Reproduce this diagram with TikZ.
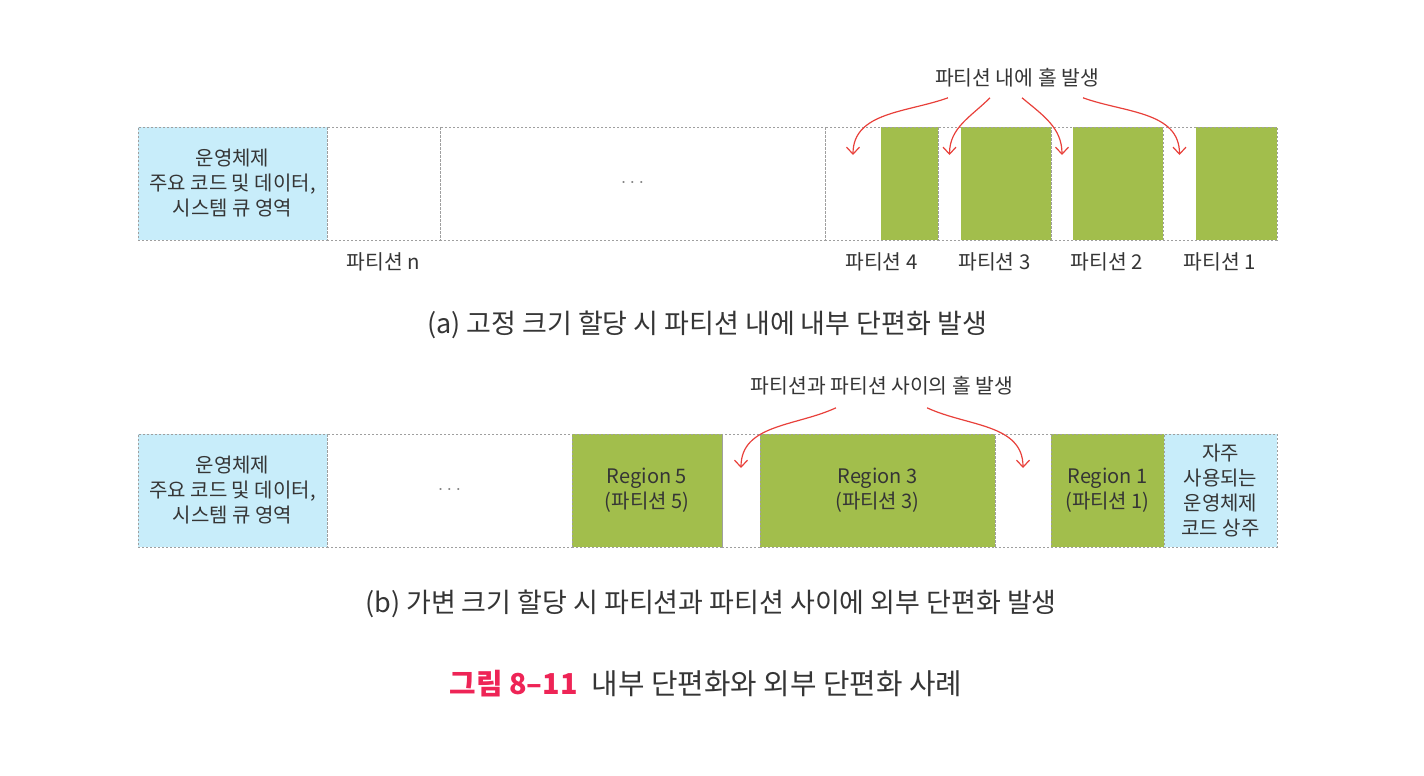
\documentclass[tikz,border=0pt]{standalone}
\usepackage{fontspec}
\setmainfont{Noto Sans CJK KR}
\usetikzlibrary{positioning, arrows.meta, backgrounds}
\definecolor{osblue}{HTML}{C8EDFA}
\definecolor{usedgreen}{HTML}{A2BE4C}
\definecolor{holered}{HTML}{E8403A}
\definecolor{figred}{HTML}{EE2456}
\definecolor{inkgray}{HTML}{353535}
\tikzstyle{memcell} = [rectangle, draw=gray!75, dash pattern=on 1.2pt off 0.8pt, line width=0.5pt, inner sep=0pt, outer sep=0pt, minimum height=56.5pt, text centered, align=center, font=\fontsize{10}{12.5}\selectfont, text=inkgray]
\tikzstyle{osarea} = [memcell, fill=osblue]
\tikzstyle{usedarea} = [memcell, fill=usedgreen]
\tikzstyle{greenfill} = [rectangle, fill=usedgreen, inner sep=0pt, outer sep=0pt, minimum height=56.5pt]
\tikzstyle{holecell} = [rectangle, inner sep=0pt, outer sep=0pt, minimum height=56.5pt]
\tikzstyle{partname} = [inner sep=0pt, text=inkgray, font=\fontsize{10.2}{12}\selectfont]
\tikzstyle{subcap} = [inner sep=0pt, text=inkgray, font=\fontsize{13.5}{15}\selectfont]
\tikzstyle{holearrow} = [holered, line width=0.6pt, -{Straight Barb[length=3.5pt,width=6.5pt]}]

\begin{document}
\begin{tikzpicture}[x=0.5pt, y=-0.5pt]
\useasboundingbox (0,0) rectangle (1424,776);

% (a) fixed size partitions
\node (osA) [osarea, minimum width=94.5pt, anchor=north west] at (138,127) {운영체제\\주요 코드 및 데이터,\\시스템 큐 영역};
\node (pn) [memcell, minimum width=56.5pt, right=0pt of osA] {};
\node (dotsA) [memcell, minimum width=192.5pt, right=0pt of pn] {\textcolor{gray}{$\cdots$}};
\node (part4) [memcell, minimum width=56.5pt, right=0pt of dotsA] {};
\node (part3) [memcell, minimum width=56.5pt, right=0pt of part4] {};
\node (part2) [memcell, minimum width=56pt, right=0pt of part3] {};
\node (part1) [memcell, minimum width=57pt, right=0pt of part2] {};

\node (hole4) [holecell, minimum width=28pt, anchor=west] at (part4.west) {};
\node (hole3) [holecell, minimum width=11.5pt, anchor=west] at (part3.west) {};
\node (hole2) [holecell, minimum width=11pt, anchor=west] at (part2.west) {};
\node (hole1) [holecell, minimum width=16.5pt, anchor=west] at (part1.west) {};

\begin{scope}[on background layer]
\node (used4) [greenfill, minimum width=28.5pt, anchor=east] at (part4.east) {};
\node (used3) [greenfill, minimum width=45pt, anchor=east] at (part3.east) {};
\node (used2) [greenfill, minimum width=45pt, anchor=east] at (part2.east) {};
\node (used1) [greenfill, minimum width=40.5pt, anchor=east] at (part1.east) {};
\end{scope}

\node (lbn) [partname, below=6pt of pn] {파티션 n};
\node (lb4) [partname, below=6pt of part4] {파티션 4};
\node (lb3) [partname, below=6pt of part3] {파티션 3};
\node (lb2) [partname, below=6pt of part2] {파티션 2};
\node (lb1) [partname, below=6pt of part1] {파티션 1};

\node (holeA) [partname] at (1017,78) {파티션 내에 홀 발생};
\coordinate (a1) at ([xshift=-34.5pt, yshift=-5pt]holeA.south);
\coordinate (a2) at ([xshift=-13.5pt, yshift=-5pt]holeA.south);
\coordinate (a3) at ([xshift=2.5pt, yshift=-5pt]holeA.south);
\coordinate (a4) at ([xshift=33pt, yshift=-5pt]holeA.south);

\draw [holearrow] (a1) to[out=200, in=90] ([yshift=-14pt]hole4.north);
\draw [holearrow] (a2) to[out=225, in=90] ([yshift=-14pt]hole3.north);
\draw [holearrow] (a3) to[out=-40, in=90] ([yshift=-14pt]hole2.north);
\draw [holearrow] (a4) to[out=-20, in=90] ([yshift=-14pt]hole1.north);

\node (capA) [subcap] at (707,325) {(a) 고정 크기 할당 시 파티션 내에 내부 단편화 발생};

% (b) variable size partitions
\node (osB) [osarea, minimum width=94.5pt, anchor=north west] at (138,434) {운영체제\\주요 코드 및 데이터,\\시스템 큐 영역};
\node (dotsB) [memcell, minimum width=122.5pt, right=0pt of osB] {\textcolor{gray}{$\cdots$}};
\node (reg5) [usedarea, minimum width=75pt, right=0pt of dotsB] {Region 5\\(파티션 5)};
\node (gapB) [memcell, minimum width=19pt, right=0pt of reg5] {};
\node (reg3) [usedarea, minimum width=117.5pt, right=0pt of gapB] {Region 3\\(파티션 3)};
\node (gapC) [memcell, minimum width=28pt, right=0pt of reg3] {};
\node (reg1) [usedarea, minimum width=56.5pt, right=0pt of gapC] {Region 1\\(파티션 1)};
\node (resident) [osarea, minimum width=56.5pt, right=0pt of reg1] {자주\\사용되는\\운영체제\\코드 상주};

\node (holeB) [partname] at (882,386) {파티션과 파티션 사이의 홀 발생};
\coordinate (b1) at ([xshift=-23pt, yshift=-6pt]holeB.south);
\coordinate (b2) at ([xshift=22.5pt, yshift=-6pt]holeB.south);

\draw [holearrow] (b1) to[out=205, in=90] ([yshift=-17pt]gapB.north);
\draw [holearrow] (b2) to[out=-25, in=90] ([yshift=-17pt]gapC.north);

\node (capB) [subcap] at (711,604) {(b) 가변 크기 할당 시 파티션과 파티션 사이에 외부 단편화 발생};

\node (fig) [subcap, font=\fontsize{14.4}{16}\selectfont] at (706,684) {\textcolor{figred}{\bfseries 그림 8--11}\hspace{7pt}내부 단편화와 외부 단편화 사례};

\end{tikzpicture}
\end{document}
